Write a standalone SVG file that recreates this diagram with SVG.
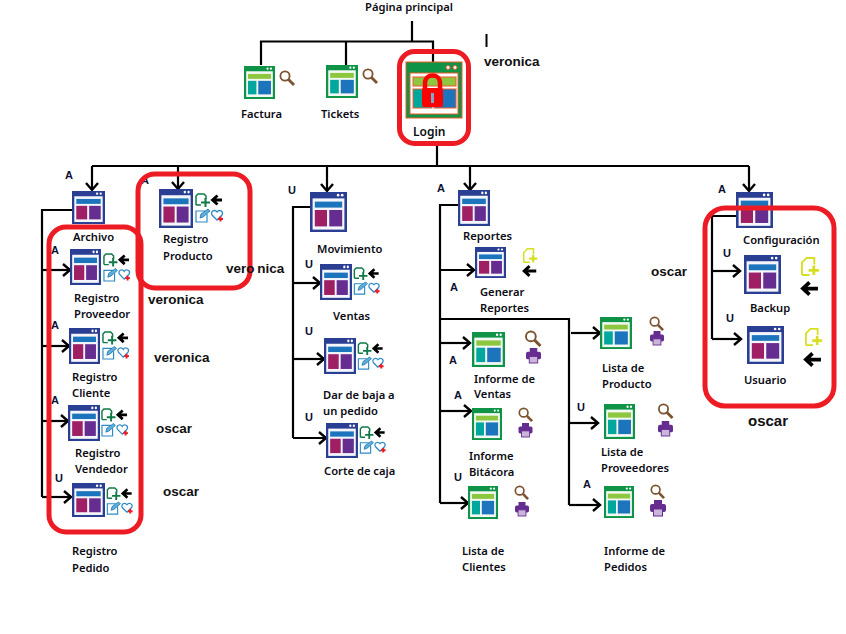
<svg xmlns="http://www.w3.org/2000/svg" width="846" height="634" viewBox="0 0 846 634">
<style>
text{font-family:"Noto Sans","DejaVu Sans",sans-serif;font-size:11.2px;font-weight:600;fill:#0b0b14}
.u{font-family:"Liberation Sans",Arial,sans-serif;font-size:11px;font-weight:700;fill:#0b1030}
.n{font-family:"Liberation Sans",Arial,sans-serif;font-size:13.5px;font-weight:700;fill:#111}
.l{fill:none;stroke:#000;stroke-width:2.2}
.a{marker-end:url(#ar)}
.r{fill:none;stroke:#ed1c24;stroke-width:5}
</style>
<defs>
<marker id="ar" markerUnits="userSpaceOnUse" markerWidth="14" markerHeight="16" refX="11" refY="7" orient="auto" overflow="visible">
<path d="M4 1L11 7L4 13" fill="none" stroke="#000" stroke-width="2.4"/>
</marker>
<symbol id="wb" viewBox="0 0 100 100" preserveAspectRatio="none">
<rect width="100" height="100" fill="#2a3f93"/><rect x="7" y="16" width="86" height="78" fill="#f4f6fb"/>
<circle cx="76" cy="8" r="3.5" fill="#fff"/><circle cx="87" cy="8" r="3.5" fill="#fff"/>
<rect x="13" y="24" width="74" height="15" fill="#1c75bc"/><rect x="13" y="45" width="33" height="41" fill="#9e1f63"/><rect x="52" y="45" width="35" height="41" fill="#662d91"/>
</symbol>
<symbol id="wg" viewBox="0 0 100 100" preserveAspectRatio="none">
<rect width="100" height="100" fill="#0f9447"/><rect x="7" y="16" width="86" height="78" fill="#f4f8f4"/>
<circle cx="76" cy="8" r="3.5" fill="#fff"/><circle cx="87" cy="8" r="3.5" fill="#fff"/>
<rect x="13" y="24" width="74" height="15" fill="#8dc63f"/><rect x="13" y="45" width="27" height="41" fill="#00a79d"/><rect x="46" y="45" width="41" height="41" fill="#1c75bc"/>
</symbol>
<symbol id="crud" viewBox="0 0 28 30" overflow="visible">
<path d="M1 12V3L3 1H9L11 3V6M1 12H6" fill="none" stroke="#0f7a45" stroke-width="1.5"/>
<path d="M6 9.500H15M10.500 5V14" fill="none" stroke="#0f7a45" stroke-width="2"/>
<path d="M27 7H18M22.500 2.500L17.500 7L22.500 11.500" fill="none" stroke="#000" stroke-width="2.800"/>
<path d="M10 18H1V29H12V21" fill="#fff" stroke="#2b8ac6" stroke-width="1.2"/>
<path d="M5 25L6 21L13 16L15 18L8 24Z" fill="#5bb0dd" stroke="#1c6fa8" stroke-width=".8"/>
<path d="M22 27L17 22C15 18 20 16 22 19C24 16 29 18 27 22Z" fill="#fff" stroke="#2b8ac6" stroke-width="1.3"/>
<path d="M23 26H28M25.500 23.500V28.500" stroke="#ed1c24" stroke-width="2"/>
</symbol>
<symbol id="mag" viewBox="0 0 16 16" overflow="visible">
<circle cx="6" cy="6" r="4.600" fill="#fff" stroke="#7c5230" stroke-width="1.800"/>
<path d="M9.500 9.500L15 15" stroke="#7c5230" stroke-width="2.800"/>
</symbol>
<symbol id="prt" viewBox="0 0 16 16" overflow="visible">
<path d="M4 0H12V5H4Z" fill="#662d91"/>
<rect x="0" y="4" width="16" height="8" rx="2" fill="#662d91"/>
<rect x="3.500" y="9" width="9" height="7" fill="#c9b4da" stroke="#662d91"/>
</symbol>
<symbol id="dy" viewBox="0 0 20 20" overflow="visible">
<path d="M1 19V6L6 1H14V8M1 19H9" fill="none" stroke="#d7df23" stroke-width="2"/>
<path d="M8 14H19M13.500 9V19" stroke="#d7df23" stroke-width="3"/>
</symbol>
<symbol id="ab" viewBox="0 0 18 16" overflow="visible">
<path d="M18 8H3M9 1.500L2 8L9 14.500" fill="none" stroke="#000" stroke-width="4"/>
</symbol>
</defs>
<rect width="846" height="634" fill="#fff"/>

<g id="connectors">
<path class="l" d="M412 21V41M261 65V41.500H433V62M346 41.500V66"/>
<path class="l" d="M437 143V166M92 166H749"/>
<path class="l a" d="M92 166V190"/><path class="l a" d="M178 166V189"/><path class="l a" d="M327 166V191"/><path class="l a" d="M470 166V190"/><path class="l a" d="M749 166V191"/>
<path class="l" d="M72 210H42V497"/>
<path class="l a" d="M42 270H70"/><path class="l a" d="M42 346H69"/><path class="l a" d="M42 421H68"/><path class="l a" d="M42 497H71"/>
<path class="l" d="M310 207H293V438"/>
<path class="l a" d="M293 283H320"/><path class="l a" d="M293 359H324"/><path class="l a" d="M293 438H326"/>
<path class="l" d="M458 205H440V503"/>
<path class="l a" d="M440 270H474"/><path class="l a" d="M440 343H470"/><path class="l a" d="M440 411H471"/><path class="l a" d="M440 503H468"/>
<path class="l" d="M440 319H569V505"/>
<path class="l a" d="M571 333H600"/><path class="l a" d="M569 423H598"/><path class="l a" d="M569 505H600"/>
<path class="l" d="M736 216H712V339"/>
<path class="l a" d="M712 271H740"/><path class="l a" d="M712 339H741"/>
</g>

<g id="n-pagina"><text x="365" y="11">Página principal</text></g>
<g id="n-factura"><use href="#wg" x="244" y="66" width="31" height="33"/><use href="#mag" x="279" y="70" width="16" height="16"/><text x="241" y="118">Factura</text></g>
<g id="n-tickets"><use href="#wg" x="326" y="65" width="32" height="33"/><use href="#mag" x="362" y="68" width="16" height="16"/><text x="321" y="118">Tickets</text></g>
<g id="n-login">
<rect x="406" y="62" width="56" height="56" fill="#0f9447" stroke="#f15a29"/>
<circle cx="448" cy="67.500" r="2" fill="#fff" stroke="#f15a29"/><circle cx="455" cy="67.500" r="2" fill="#fff" stroke="#f15a29"/>
<rect x="410" y="73" width="48" height="41" fill="#fff" stroke="#f15a29"/>
<rect x="413" y="77" width="43" height="9" fill="#8dc63f" stroke="#f15a29"/>
<rect x="413" y="89" width="19" height="19" fill="#00a79d" stroke="#f15a29"/><rect x="434" y="89" width="22" height="19" fill="#1c75bc" stroke="#f15a29"/>
<path d="M425 90V83C425 73 440 73 440 83V90" fill="none" stroke="#f00" stroke-width="4.500"/>
<rect x="422" y="88" width="21" height="19" rx="2" fill="#f00"/>
<rect x="431" y="93" width="3" height="10" fill="#7fa8d0"/>
<rect class="r" x="399.500" y="51.500" width="69" height="92" rx="15"/>
<text x="413" y="136" style="font-size:12px">Login</text>
</g>
<g id="n-cursor"><rect x="485.500" y="34" width="2" height="13" fill="#000"/><text class="n" x="484" y="66">veronica</text></g>

<g id="n-archivo"><use href="#wb" x="72" y="191" width="33" height="33"/><text class="u" x="65" y="179">A</text><text x="73" y="241">Archivo</text></g>
<g id="n-producto"><use href="#wb" x="159" y="189" width="34" height="39"/><use href="#crud" x="195" y="193" width="28" height="30"/><text class="u" x="141" y="184">A</text><text x="163" y="243">Registro</text><text x="163" y="260">Producto</text>
<rect class="r" x="138" y="174" width="112" height="114" rx="17"/>
<text class="n" x="226" y="273" style="word-spacing:-1px">vero nica</text><text class="n" x="148" y="304">veronica</text></g>
<g id="n-proveedor"><use href="#wb" x="70" y="249" width="31" height="36"/><use href="#crud" x="103" y="253" width="27" height="29"/><text class="u" x="51" y="254">A</text><text x="74" y="302">Registro</text><text x="74" y="318">Proveedor</text><text class="n" x="154" y="362">veronica</text></g>
<g id="n-cliente"><use href="#wb" x="69" y="328" width="31" height="36"/><use href="#crud" x="102" y="331" width="27" height="29"/><text class="u" x="51" y="329">A</text><text x="72" y="381">Registro</text><text x="72" y="397">Cliente</text><text class="n" x="156" y="433">oscar</text></g>
<g id="n-vendedor"><use href="#wb" x="68" y="405" width="32" height="36"/><use href="#crud" x="101" y="408" width="27" height="29"/><text class="u" x="51" y="404">A</text><text x="75" y="457">Registro</text><text x="75" y="473">Vendedor</text><text class="n" x="163" y="496">oscar</text></g>
<g id="n-pedido"><use href="#wb" x="72" y="483" width="33" height="34"/><use href="#crud" x="106" y="487" width="27" height="28"/><text class="u" x="55" y="482">U</text><text x="72" y="555">Registro</text><text x="72" y="572">Pedido</text></g>
<rect id="frame-left" class="r" x="49" y="227" width="92" height="305" rx="17"/>

<g id="n-movimiento"><use href="#wb" x="310" y="192" width="37" height="40"/><text class="u" x="288" y="194">U</text><text x="317" y="253">Movimiento</text></g>
<g id="n-ventas"><use href="#wb" x="320" y="264" width="32" height="36"/><use href="#crud" x="353" y="267" width="27" height="28"/><text class="u" x="305" y="268">U</text><text x="333" y="320">Ventas</text></g>
<g id="n-baja"><use href="#wb" x="324" y="338" width="32" height="36"/><use href="#crud" x="357" y="342" width="27" height="28"/><text class="u" x="305" y="335">U</text><text x="323" y="399">Dar de baja a</text><text x="323" y="415">un pedido</text></g>
<g id="n-corte"><use href="#wb" x="326" y="423" width="32" height="35"/><use href="#crud" x="359" y="426" width="27" height="28"/><text class="u" x="305" y="421">U</text><text x="324" y="475">Corte de caja</text></g>

<g id="n-reportes"><use href="#wb" x="458" y="190" width="32" height="36"/><text class="u" x="437" y="192">A</text><text x="463" y="240">Reportes</text></g>
<g id="n-generar"><use href="#wb" x="475" y="247" width="31" height="31"/><use href="#dy" x="522" y="248" width="17" height="15"/><use href="#ab" x="522" y="265" width="15" height="12"/><text class="u" x="450" y="291">A</text><text x="480" y="296">Generar</text><text x="480" y="312">Reportes</text><text class="n" x="651" y="276">oscar</text></g>
<g id="n-iventas"><use href="#wg" x="472" y="332" width="33" height="35"/><use href="#mag" x="524" y="330" width="18" height="17"/><use href="#prt" x="524" y="348" width="19" height="15"/><text class="u" x="449" y="364">A</text><text x="474" y="383">Informe de</text><text x="474" y="398">Ventas</text></g>
<g id="n-bitacora"><use href="#wg" x="472" y="408" width="30" height="32"/><use href="#mag" x="518" y="407" width="15" height="15"/><use href="#prt" x="518" y="423" width="15" height="14"/><text class="u" x="454" y="399">A</text><text x="469" y="460">Informe</text><text x="469" y="476">Bitácora</text></g>
<g id="n-clientes"><use href="#wg" x="468" y="486" width="30" height="33"/><use href="#mag" x="514" y="485" width="15" height="15"/><use href="#prt" x="514" y="502" width="16" height="14"/><text class="u" x="454" y="481">U</text><text x="462" y="555">Lista de</text><text x="462" y="571">Clientes</text></g>
<g id="n-lproducto"><use href="#wg" x="600" y="317" width="32" height="32"/><use href="#mag" x="649" y="316" width="15" height="15"/><use href="#prt" x="649" y="331" width="16" height="14"/><text x="602" y="372">Lista de</text><text x="602" y="388">Producto</text></g>
<g id="n-lprov"><use href="#wg" x="604" y="404" width="31" height="35"/><use href="#mag" x="657" y="403" width="17" height="16"/><use href="#prt" x="657" y="421" width="17" height="15"/><text class="u" x="577" y="411">U</text><text x="601" y="456">Lista de</text><text x="601" y="472">Proveedores</text></g>
<g id="n-ipedidos"><use href="#wg" x="604" y="486" width="30" height="32"/><use href="#mag" x="650" y="484" width="15" height="15"/><use href="#prt" x="650" y="500" width="16" height="16"/><text class="u" x="583" y="488">A</text><text x="604" y="555">Informe de</text><text x="604" y="571">Pedidos</text></g>

<g id="n-config"><use href="#wb" x="736" y="192" width="37" height="36"/><text class="u" x="718" y="193">A</text><text x="743" y="244">Configuración</text></g>
<g id="n-backup"><use href="#wb" x="744" y="255" width="37" height="39"/><use href="#dy" x="801" y="257" width="19" height="19"/><use href="#ab" x="800" y="281" width="19" height="15"/><text class="u" x="723" y="257">U</text><text x="750" y="312">Backup</text></g>
<g id="n-usuario"><use href="#wb" x="747" y="326" width="37" height="38"/><use href="#dy" x="805" y="328" width="18" height="18"/><use href="#ab" x="804" y="352" width="17" height="15"/><text class="u" x="726" y="322">U</text><text x="744" y="384">Usuario</text></g>
<rect id="frame-right" class="r" x="705" y="208" width="129" height="198" rx="20"/>
<text class="n" x="748" y="426" style="font-size:15px">oscar</text>
</svg>
